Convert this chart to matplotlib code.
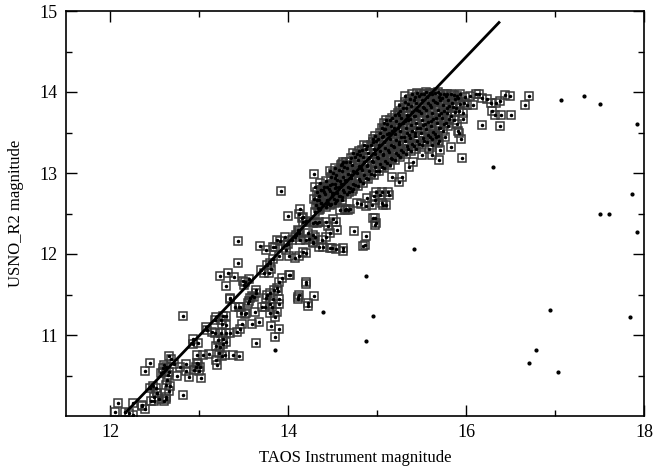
import matplotlib
matplotlib.use("Agg")
import matplotlib.pyplot as plt
from matplotlib.ticker import FixedLocator

# ---------------- data ----------------
fit_x = [12.16, 16.38]
fit_y = [10.03, 14.87]

dot_pts = [(17.07, 13.90), (17.32, 13.95), (17.50, 13.85), (17.92, 13.60), (16.30, 13.08),
           (17.86, 12.74), (17.51, 12.49), (17.61, 12.50), (17.92, 12.27), (15.41, 12.06),
           (16.94, 11.31), (17.84, 11.22), (16.78, 10.82), (16.71, 10.66), (17.03, 10.54),
           (14.87, 11.73), (14.39, 11.28), (14.95, 11.23), (14.87, 10.92), (13.85, 10.81)]

low_pts = [(12.05, 10.05), (12.09, 10.16), (12.16, 10.05), (12.25, 10.01), (12.25, 10.16), (12.21, 10.04),
           (12.36, 10.14), (12.39, 10.09), (12.36, 10.12), (12.46, 10.18), (12.52, 10.28), (12.44, 10.34),
           (12.49, 10.23), (12.51, 10.34), (12.39, 10.56), (12.44, 10.65), (12.55, 10.21), (12.62, 10.21),
           (12.60, 10.18), (12.66, 10.31), (12.67, 10.37), (12.64, 10.45), (12.59, 10.54), (12.66, 10.54),
           (12.59, 10.59), (12.60, 10.63), (12.66, 10.74), (12.68, 10.70), (12.71, 10.64), (12.57, 10.53),
           (12.82, 10.26), (12.85, 10.56), (12.85, 10.64), (12.88, 10.48), (12.94, 10.57), (12.97, 10.65),
           (13.00, 10.56), (13.04, 10.75), (13.11, 10.77), (12.93, 10.95), (12.99, 10.90), (12.93, 10.89),
           (12.82, 11.24), (13.17, 11.19), (13.24, 11.18), (13.30, 11.24), (13.30, 11.12), (13.09, 11.06),
           (13.17, 11.03), (13.24, 11.03), (13.30, 11.03), (13.27, 10.95), (13.30, 10.91), (13.23, 10.85),
           (13.22, 10.78), (13.25, 10.74), (13.19, 10.69), (13.20, 10.63), (12.75, 10.50), (12.78, 10.60),
           (12.48, 10.37), (12.52, 10.29), (12.49, 10.19), (12.62, 10.23), (13.19, 11.22), (13.26, 11.23),
           (13.25, 11.14), (13.34, 11.02), (13.21, 10.94), (13.19, 10.86), (13.29, 10.75), (13.26, 10.89),
           (13.42, 11.04), (13.46, 11.08), (13.48, 11.14), (13.52, 11.27), (13.59, 11.14), (13.67, 11.16),
           (13.08, 11.10), (13.14, 11.04), (12.97, 10.75), (12.98, 10.64), (12.96, 10.61), (13.01, 10.61),
           (12.63, 10.61), (12.65, 10.51), (12.63, 10.38), (13.02, 10.47), (13.64, 10.90), (13.45, 10.74),
           (13.38, 10.75), (13.85, 10.97), (13.80, 11.11), (13.90, 11.08)]

mid_pts = [(14.00, 12.47), (13.43, 12.16), (13.68, 12.10), (13.43, 11.89), (13.23, 11.73), (13.32, 11.76),
           (13.39, 11.72), (13.30, 11.61), (13.49, 11.67), (13.51, 11.65), (13.56, 11.69), (13.50, 11.62),
           (13.69, 11.80), (13.73, 11.76), (13.78, 11.77), (13.80, 11.81), (13.76, 11.86), (13.79, 11.89),
           (13.83, 11.94), (13.87, 12.17), (13.91, 12.16), (13.75, 12.05), (13.85, 12.09), (13.97, 12.11),
           (13.97, 12.05), (13.90, 11.97), (14.01, 11.97), (14.07, 11.95), (14.12, 11.97), (14.16, 12.03),
           (14.20, 12.01), (14.09, 12.23), (14.12, 12.28), (14.20, 12.40), (14.16, 12.46), (14.12, 12.50),
           (14.01, 11.74), (13.93, 11.70), (13.90, 11.66), (13.87, 11.58), (13.84, 11.56), (13.88, 11.54),
           (13.76, 11.49), (13.79, 11.52), (13.75, 11.46), (13.70, 11.34), (13.74, 11.34), (13.82, 11.34),
           (13.90, 11.38), (13.87, 11.29), (13.79, 11.27), (13.64, 11.55), (13.61, 11.47), (13.57, 11.46),
           (13.34, 11.46), (13.55, 11.40), (13.46, 11.35), (13.47, 11.27), (13.63, 11.29), (14.12, 11.49),
           (14.11, 11.44), (14.20, 11.66), (14.22, 11.40), (13.40, 11.35), (13.45, 11.35), (13.51, 11.26),
           (13.56, 11.42), (13.59, 11.48), (13.64, 11.52), (13.34, 11.44), (14.11, 11.47), (14.22, 11.36),
           (14.29, 11.48), (14.20, 11.63), (14.02, 11.74), (13.89, 11.45), (13.83, 11.44), (13.79, 11.38),
           (13.85, 11.22), (13.92, 12.78), (14.29, 12.99)]

upper_pts = [(14.60, 13.11), (14.37, 12.79), (14.40, 12.76), (14.32, 12.67), (14.37, 12.63), (14.43, 12.65),
             (14.47, 12.61), (14.52, 12.63), (14.55, 12.67), (14.50, 12.75), (14.47, 12.85), (14.52, 12.87),
             (14.57, 12.83), (14.62, 12.87), (14.68, 12.77), (14.73, 12.80), (14.77, 12.63), (14.82, 12.62),
             (14.88, 12.69), (14.87, 12.59), (14.94, 12.61), (14.99, 12.77), (15.05, 12.76), (14.97, 12.67),
             (15.12, 12.76), (15.05, 12.63), (14.97, 12.45), (14.98, 12.36), (14.74, 12.29), (14.87, 12.22),
             (14.84, 12.10), (14.58, 12.54), (14.64, 12.54), (14.67, 12.54), (14.69, 12.56), (14.60, 12.67),
             (14.35, 12.54), (14.13, 12.56), (14.15, 12.44), (14.20, 12.41), (14.30, 12.40), (14.35, 12.39),
             (14.42, 12.39), (14.45, 12.35), (14.50, 12.43), (14.54, 12.40), (14.55, 12.30), (14.47, 12.26),
             (14.42, 12.21), (14.38, 12.17), (14.28, 12.15), (14.30, 12.21), (14.23, 12.18), (14.12, 12.26),
             (14.07, 12.21), (14.04, 12.17), (13.96, 12.21), (14.00, 12.12), (13.83, 12.09), (14.35, 12.09),
             (14.49, 12.07), (14.54, 12.06), (14.62, 12.07), (14.39, 12.79), (14.43, 12.62), (14.34, 12.67),
             (14.49, 12.75), (14.54, 12.83), (14.58, 12.71), (14.65, 12.55), (14.32, 12.38), (14.28, 12.38),
             (14.17, 12.39), (14.11, 12.30), (14.22, 12.26), (14.28, 12.24), (14.28, 12.13), (14.20, 12.17),
             (14.13, 12.17), (14.39, 12.09), (14.47, 12.07), (15.17, 12.95), (15.24, 12.89), (15.03, 12.73),
             (14.96, 12.71), (15.06, 12.60), (15.10, 12.60), (15.13, 12.73), (14.95, 12.44), (14.99, 12.38),
             (14.86, 12.11), (14.62, 12.04)]

blob_pts = [(14.30, 12.52), (14.31, 12.61), (14.29, 12.68), (14.32, 12.76), (14.30, 12.83),
            (14.36, 12.56), (14.37, 12.63), (14.35, 12.72), (14.37, 12.79), (14.36, 12.88),
            (14.42, 12.58), (14.43, 12.67), (14.41, 12.74), (14.43, 12.83), (14.42, 12.90),
            (14.48, 12.62), (14.49, 12.71), (14.47, 12.78), (14.49, 12.87), (14.48, 12.95), (14.47, 13.02),
            (14.54, 12.66), (14.55, 12.75), (14.53, 12.82), (14.55, 12.91), (14.54, 12.98), (14.53, 13.06),
            (14.60, 12.70), (14.61, 12.79), (14.59, 12.86), (14.61, 12.95), (14.60, 13.02), (14.59, 13.10),
            (14.66, 12.74), (14.67, 12.83), (14.65, 12.90), (14.67, 12.99), (14.66, 13.06), (14.65, 13.14),
            (14.72, 12.78), (14.73, 12.87), (14.71, 12.94), (14.73, 13.03), (14.72, 13.10), (14.71, 13.18), (14.73, 13.25),
            (14.78, 12.84), (14.79, 12.93), (14.77, 13.00), (14.79, 13.09), (14.78, 13.16), (14.77, 13.24),
            (14.84, 12.88), (14.85, 12.97), (14.83, 13.04), (14.85, 13.13), (14.84, 13.20), (14.83, 13.28), (14.85, 13.35),
            (14.90, 12.93), (14.91, 13.02), (14.89, 13.09), (14.91, 13.18), (14.90, 13.25), (14.89, 13.33),
            (14.96, 12.98), (14.97, 13.07), (14.95, 13.14), (14.97, 13.23), (14.96, 13.30), (14.95, 13.38), (14.97, 13.46),
            (15.02, 13.02), (15.03, 13.11), (15.01, 13.18), (15.03, 13.27), (15.02, 13.34), (15.01, 13.42), (15.03, 13.50),
            (15.08, 13.06), (15.09, 13.15), (15.07, 13.22), (15.09, 13.31), (15.08, 13.38), (15.07, 13.46), (15.09, 13.54), (15.08, 13.62),
            (15.14, 13.10), (15.15, 13.19), (15.13, 13.26), (15.15, 13.35), (15.14, 13.42), (15.13, 13.50), (15.15, 13.58), (15.14, 13.66),
            (15.20, 13.16), (15.21, 13.25), (15.19, 13.32), (15.21, 13.41), (15.20, 13.48), (15.19, 13.56), (15.21, 13.64), (15.20, 13.72),
            (15.26, 13.20), (15.27, 13.29), (15.25, 13.36), (15.27, 13.45), (15.26, 13.52), (15.25, 13.60), (15.27, 13.68), (15.26, 13.76), (15.25, 13.84),
            (15.32, 13.24), (15.33, 13.33), (15.31, 13.40), (15.33, 13.49), (15.32, 13.56), (15.31, 13.64), (15.33, 13.72), (15.32, 13.80), (15.31, 13.88),
            (15.38, 13.27), (15.39, 13.36), (15.37, 13.43), (15.39, 13.52), (15.38, 13.59), (15.37, 13.67), (15.39, 13.75), (15.38, 13.83), (15.37, 13.91), (15.39, 13.97),
            (15.44, 13.30), (15.45, 13.39), (15.43, 13.46), (15.45, 13.55), (15.44, 13.62), (15.43, 13.70), (15.45, 13.78), (15.44, 13.86), (15.43, 13.94), (15.45, 13.99),
            (15.50, 13.34), (15.51, 13.43), (15.49, 13.50), (15.51, 13.59), (15.50, 13.66), (15.49, 13.74), (15.51, 13.82), (15.50, 13.90), (15.49, 13.97),
            (15.56, 13.38), (15.57, 13.47), (15.55, 13.54), (15.57, 13.63), (15.56, 13.70), (15.55, 13.78), (15.57, 13.86), (15.56, 13.94), (15.55, 14.00),
            (15.62, 13.42), (15.63, 13.51), (15.61, 13.58), (15.63, 13.67), (15.62, 13.74), (15.61, 13.82), (15.63, 13.90), (15.62, 13.97),
            (15.68, 13.46), (15.69, 13.55), (15.67, 13.62), (15.69, 13.71), (15.68, 13.78), (15.67, 13.86), (15.69, 13.94), (15.68, 14.00),
            (15.74, 13.52), (15.75, 13.61), (15.73, 13.68), (15.75, 13.77), (15.74, 13.84), (15.73, 13.92), (15.75, 13.98),
            (15.80, 13.58), (15.81, 13.67), (15.79, 13.74), (15.81, 13.83), (15.80, 13.90), (15.79, 13.97),
            (15.86, 13.66), (15.87, 13.75), (15.85, 13.82), (15.87, 13.91), (15.86, 13.96),
            (15.92, 13.76), (15.93, 13.85), (15.91, 13.92), (15.93, 13.98),
            (15.98, 13.86), (15.99, 13.94),
            (15.31, 13.95), (15.25, 13.72), (15.10, 13.65), (15.08, 13.54), (14.95, 13.42), (14.80, 13.27), (14.62, 13.13)]

blob2_pts = [(14.33, 12.57), (14.34, 12.72), (14.39, 12.60), (14.40, 12.83),
             (14.45, 12.63), (14.46, 12.80), (14.51, 12.68), (14.52, 12.94), (14.50, 13.00),
             (14.57, 12.72), (14.58, 12.90), (14.57, 13.04), (14.63, 12.76), (14.64, 12.91), (14.63, 13.08),
             (14.69, 12.81), (14.70, 12.97), (14.69, 13.13), (14.75, 12.85), (14.76, 13.01), (14.75, 13.20),
             (14.81, 12.90), (14.82, 13.06), (14.81, 13.22), (14.87, 12.94), (14.88, 13.10), (14.87, 13.30),
             (14.93, 12.99), (14.94, 13.15), (14.93, 13.35), (14.99, 13.03), (15.00, 13.20), (14.99, 13.40),
             (15.05, 13.08), (15.06, 13.24), (15.05, 13.44), (15.05, 13.56), (15.11, 13.12), (15.12, 13.28),
             (15.11, 13.48), (15.11, 13.60), (15.17, 13.17), (15.18, 13.33), (15.17, 13.52), (15.17, 13.68),
             (15.23, 13.22), (15.24, 13.38), (15.23, 13.56), (15.23, 13.74), (15.29, 13.26), (15.30, 13.44),
             (15.29, 13.62), (15.29, 13.80), (15.35, 13.30), (15.36, 13.47), (15.35, 13.66), (15.35, 13.85),
             (15.41, 13.33), (15.42, 13.50), (15.41, 13.70), (15.41, 13.90), (15.47, 13.36), (15.48, 13.56),
             (15.47, 13.76), (15.47, 13.95), (15.53, 13.40), (15.54, 13.60), (15.53, 13.80), (15.53, 13.98),
             (15.59, 13.44), (15.60, 13.64), (15.59, 13.84), (15.59, 13.99), (15.65, 13.48), (15.66, 13.68),
             (15.65, 13.88), (15.65, 13.99), (15.71, 13.56), (15.72, 13.74), (15.71, 13.90), (15.71, 13.98),
             (15.77, 13.62), (15.78, 13.80), (15.77, 13.95), (15.83, 13.70), (15.84, 13.86), (15.83, 13.98),
             (15.89, 13.80), (15.90, 13.95)]

tail_pts = [(16.71, 13.95), (16.66, 13.84), (16.49, 13.95), (16.44, 13.96), (16.38, 13.89), (16.34, 13.86),
            (16.28, 13.86), (16.23, 13.91), (16.18, 13.92), (16.14, 13.98), (16.11, 13.97), (16.08, 13.84),
            (16.01, 13.84), (16.04, 13.95), (16.29, 13.77), (16.32, 13.72), (16.39, 13.72), (16.50, 13.72),
            (16.18, 13.59), (16.38, 13.58), (15.96, 13.74), (15.96, 13.67), (15.90, 13.60), (15.92, 13.50),
            (15.94, 13.42), (15.83, 13.32), (15.95, 13.19), (15.91, 13.52), (15.68, 13.37), (15.62, 13.22),
            (15.50, 13.22), (15.40, 13.14), (15.36, 13.08), (15.28, 12.95), (15.66, 13.45), (15.62, 13.35),
            (15.70, 13.40), (15.58, 13.30), (15.71, 13.28), (15.76, 13.45), (15.69, 13.16)]

x_major = [12, 14, 16, 18]
x_minor = [13, 15, 17]
y_major = [11, 12, 13, 14, 15]
y_minor = [10.5, 11.5, 12.5, 13.5, 14.5]
x_label = "TAOS Instrument magnitude"
y_label = "USNO_R2 magnitude"

# ---------------- plotting ----------------
plt.rcParams['font.family'] = ['Liberation Serif', 'DejaVu Serif']

fig = plt.figure(figsize=(6.54, 4.70), dpi=100)
ax = fig.add_axes([66 / 654, 1 - 416 / 470, (644 - 66) / 654, (416 - 11) / 470])

sq = low_pts + mid_pts + upper_pts + blob_pts + blob2_pts + tail_pts
sx = [p[0] for p in sq]
sy = [p[1] for p in sq]
ax.plot(sx, sy, linestyle='none', marker='s', ms=5.2, mfc='none', mec='#383838', mew=1.1, zorder=2)
ax.plot(sx, sy, linestyle='none', marker='o', ms=1.5, color='black', zorder=3)

dx = [p[0] for p in dot_pts]
dy = [p[1] for p in dot_pts]
ax.plot(dx, dy, linestyle='none', marker='o', ms=2.0, color='black', zorder=3)

ax.plot(fit_x, fit_y, color='black', lw=2.0, zorder=4, solid_capstyle='butt')

ax.set_xlim(11.5, 18)
ax.set_ylim(10, 15)
ax.xaxis.set_major_locator(FixedLocator(x_major))
ax.xaxis.set_minor_locator(FixedLocator(x_minor))
ax.yaxis.set_major_locator(FixedLocator(y_major))
ax.yaxis.set_minor_locator(FixedLocator(y_minor))
ax.tick_params(which='both', direction='in', top=True, right=True, labelsize=13, width=1.0, colors='black')
ax.tick_params(which='major', length=8, pad=6)
ax.tick_params(which='minor', length=4)
for s in ax.spines.values():
    s.set_linewidth(1.2)

ax.set_xlabel(x_label, fontsize=12, labelpad=6)
ax.set_ylabel(y_label, fontsize=12, labelpad=11)

fig.savefig("out.png", dpi=100)
